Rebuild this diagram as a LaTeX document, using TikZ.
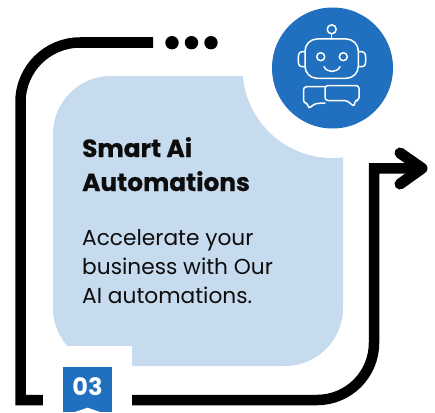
\documentclass[tikz,border=0pt]{standalone}
\usepackage{fontspec}
\setmainfont{Poppins}
\newfontfamily\headfont[FakeBold=0.5]{Poppins Bold}
\definecolor{panelblue}{HTML}{C7DBEF}
\definecolor{deepblue}{HTML}{2070BF}
\tikzset{
  track/.style={draw=black,line width=10.5pt},
  robotline/.style={draw=white,line width=1.5pt,line join=round,line cap=round},
  heading/.style={anchor=base west,inner sep=0pt,font=\fontsize{24.8}{30}\headfont,text=black!95},
  body/.style={anchor=base west,inner sep=0pt,font=\fontsize{21.7}{26}\selectfont,text=black!95},
}
\begin{document}
\begin{tikzpicture}[x=1pt,y=-1pt]
\useasboundingbox (0,0) rectangle (435,412);
\fill[white] (0,0) rectangle (435,412);
% panel
\fill[panelblue,rounded corners=58pt] (53,76) rectangle (343,366);
% white cut-out round the robot disc
\fill[white] (332.5,68) circle[radius=90];
% track
\coordinate (trackstart) at (153,42.5);
\coordinate (tracktip) at (422,168.3);
\draw[track] (trackstart) -- (80,42.5) arc[start angle=-90,end angle=-180,radius=59.5] -- (20.5,400) -- (317,400)
   arc[start angle=90,end angle=0,radius=57] -- (374,168.3) -- (tracktip);
\draw[track,line width=11pt,line cap=round,line join=round] (400,153) -- (tracktip) -- (400,184);
% dots
\foreach \n/\x in {a/172,b/191.5,c/211}
  \fill[black] (\x,42.7) circle[radius=6.7];
% white box behind the badge
\fill[white] (43,346) rectangle (132,412);
% badge
\fill[deepblue] (63.3,367) rectangle (111.7,412);
\fill[white] (75,412) -- (87.5,407.7) -- (100,412) -- cycle;
\node[anchor=base,inner sep=0pt,text=white,font=\fontsize{24}{28}\selectfont\bfseries] (badge) at (87.5,395) {03};
% robot disc
\fill[deepblue] (332.5,68) circle[radius=60.5];
\draw[robotline] (331.7,29.3) circle[radius=4.5];
\draw[robotline] (331.7,33.8) -- (331.7,39);
\draw[robotline,rounded corners=12pt] (305,39) rectangle (358.3,78.3);
\draw[robotline] (320.7,56.7) circle[radius=4];
\draw[robotline] (343.3,56.7) circle[radius=4];
\draw[robotline] (324,66.7) .. controls (327,73) and (337,73) .. (340,66.7);
\draw[robotline,rounded corners=3pt] (305,51.7) -- (299,51.7) -- (298,59) -- (299,66.7) -- (305,66.7);
\draw[robotline,rounded corners=3pt] (358.3,51.7) -- (365,51.7) -- (366,59) -- (365,66.7) -- (358.3,66.7);
\draw[robotline,rounded corners=3pt] (325,86.7) -- (303.5,86.7) -- (303.5,103) -- (308.3,103.5) -- (308.3,109) -- (315,103.5) -- (325,103);
\draw[robotline,rounded corners=3pt] (325,85.5) -- (359,85.5) -- (359,100.5) -- (354.5,100.5) -- (354.5,107) -- (347,100.5) -- (325,100.5) -- cycle;
% text
\node[heading] (h1) at (82,157) {Smart Ai};
\node[heading] (h2) at (82,191) {Automations};
\node[body] (b1) at (82,245) {Accelerate your};
\node[body] (b2) at (82,274) {business with Our};
\node[body] (b3) at (82,303) {AI automations.};
\end{tikzpicture}
\end{document}
